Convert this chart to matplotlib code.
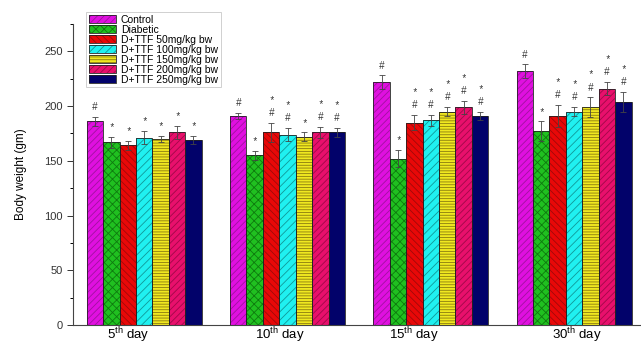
import numpy as np
import matplotlib
matplotlib.use("Agg")
import matplotlib.pyplot as plt
from matplotlib.legend_handler import HandlerTuple
from matplotlib.ticker import MultipleLocator

plt.rcParams['font.family'] = ['Liberation Sans', 'DejaVu Sans']
plt.rcParams['mathtext.default'] = 'regular'
plt.rcParams['hatch.linewidth'] = 0.6

# data
days = ["5$^{th}$ day", "10$^{th}$ day", "15$^{th}$ day", "30$^{th}$ day"]
day_label_pos = [-0.11, 0.95, 1.88, 3.02]
groups = ["Control", "Diabetic", "D+TTF 50mg/kg bw", "D+TTF 100mg/kg bw",
          "D+TTF 150mg/kg bw", "D+TTF 200mg/kg bw", "D+TTF 250mg/kg bw"]

control = [186, 191, 222, 232]
diabetic = [167, 155, 152, 177]
ttf50 = [164, 176, 185, 191]
ttf100 = [171, 174, 187, 195]
ttf150 = [170, 172, 195, 199]
ttf200 = [176, 176, 199, 216]
ttf250 = [169, 176, 191, 204]

control_err = [4, 3, 6, 6]
diabetic_err = [5, 4, 8, 9]
ttf50_err = [4, 9, 7, 10]
ttf100_err = [6, 6, 5, 4]
ttf150_err = [3, 4, 4, 9]
ttf200_err = [6, 5, 6, 6]
ttf250_err = [4, 4, 4, 9]

# significance marks per day, lower symbol first
control_sig = ["#", "#", "#", "#"]
diabetic_sig = ["*", "*", "*", "*"]
ttf50_sig = ["*", "#*", "#*", "#*"]
ttf100_sig = ["*", "#*", "#*", "#*"]
ttf150_sig = ["*", "*", "#*", "#*"]
ttf200_sig = ["*", "#*", "#*", "#*"]
ttf250_sig = ["*", "#*", "#*", "#*"]

values = [control, diabetic, ttf50, ttf100, ttf150, ttf200, ttf250]
errors = [control_err, diabetic_err, ttf50_err, ttf100_err, ttf150_err, ttf200_err, ttf250_err]
sigs = [control_sig, diabetic_sig, ttf50_sig, ttf100_sig, ttf150_sig, ttf200_sig, ttf250_sig]

colors = ['#E010E0', '#20C020', '#E80808', '#20F0F0', '#F0E820', '#E8106C', '#02026A']
hatch_colors = ['#A010A0', '#0E7A0E', '#A00808', '#109898', '#8A7A10', '#A00848', '#02026A']
hatches = ['/////', 'xxxx', '\\\\\\\\\\', '////', '------', '/////', None]

fig = plt.figure(figsize=(6.41, 3.45), dpi=100)
ax = fig.add_axes([73 / 641, 20 / 345, 568 / 641, 301 / 345])

x = np.arange(len(days))
w = 0.1145
handles = []
for i in range(len(groups)):
    pos = x + (i - 3) * w
    fill = ax.bar(pos, values[i], w, color=colors[i], hatch=hatches[i],
                  edgecolor=hatch_colors[i], linewidth=0, zorder=2)
    outline = ax.bar(pos, values[i], w, fill=False, edgecolor='#222222',
                     linewidth=0.6, zorder=3)
    ax.errorbar(pos, values[i], yerr=errors[i], fmt='none', ecolor='#444444',
                elinewidth=0.6, capsize=2, capthick=0.6, zorder=4)
    handles.append((fill[0], outline[0]))
    for j in range(len(days)):
        top = values[i][j] + errors[i][j]
        marks = sigs[i][j]
        for k, m in enumerate(marks):
            ax.annotate(m, (pos[j], top), xytext=(0, 7 + 9.5 * k),
                        textcoords='offset points', ha='center', va='center',
                        fontsize=7, style='italic', color='#333333')

ax.set_xlim(-0.497, 3.467)
ax.set_ylim(0, 275)
ax.set_xticks(day_label_pos)
ax.set_xticklabels(days, fontsize=9.5)
ax.tick_params(axis='x', length=0, pad=0)
ax.yaxis.set_major_locator(MultipleLocator(50))
ax.yaxis.set_minor_locator(MultipleLocator(25))
ax.tick_params(axis='y', which='major', length=4, width=0.7, labelsize=8, colors='#333333')
ax.tick_params(axis='y', which='minor', length=2.5, width=0.7)
for s in ['top', 'right']:
    ax.spines[s].set_visible(False)
for s in ['left', 'bottom']:
    ax.spines[s].set_color('#444444')
    ax.spines[s].set_linewidth(0.8)
ax.set_ylabel("Body weight (gm)", fontsize=8.5, labelpad=12)

leg = ax.legend(handles, groups, handler_map={tuple: HandlerTuple(ndivide=1)},
                loc='upper left', bbox_to_anchor=(86 / 641, 1 - 12 / 345),
                bbox_transform=fig.transFigure, fontsize=7.5, frameon=True,
                fancybox=False, edgecolor='#BBBBBB', labelspacing=0.0,
                handlelength=2.6, handleheight=0.8, handletextpad=0.5,
                borderpad=0.25, borderaxespad=0)
leg.get_frame().set_linewidth(0.6)

fig.savefig("out.png", dpi=100)
